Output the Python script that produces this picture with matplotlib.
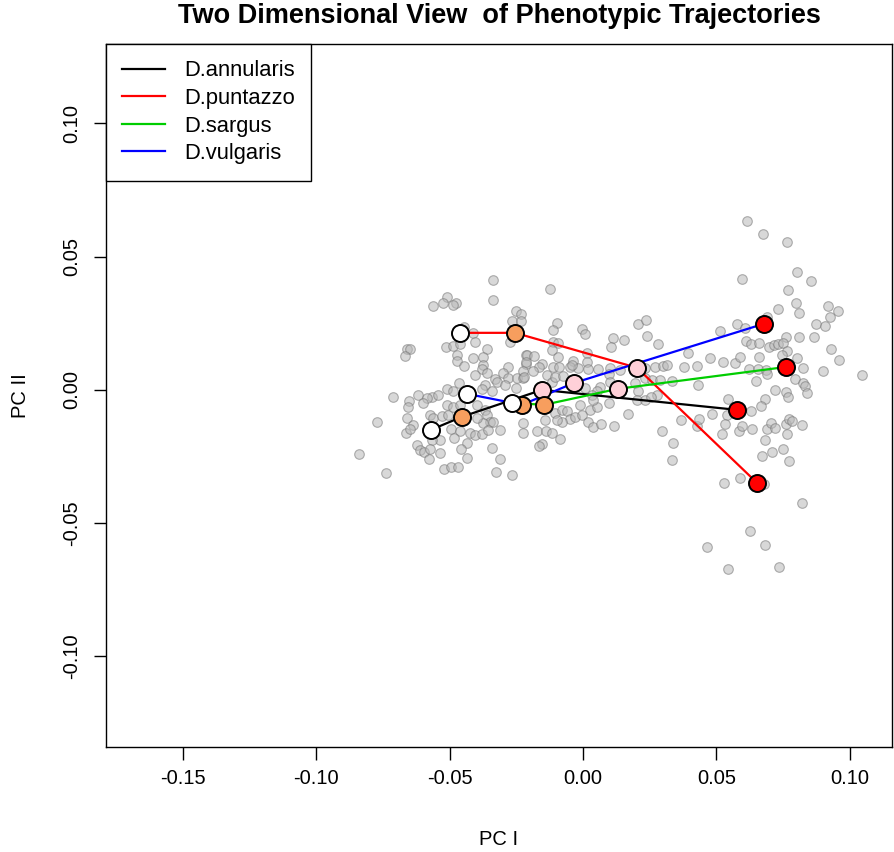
import numpy as np
import matplotlib
matplotlib.use("Agg")
import matplotlib.pyplot as plt

plt.rcParams['font.family'] = ['Liberation Sans', 'DejaVu Sans']

# PC scores of all specimens (x1000)
pc1_all = [
    -33.6, -33.6, -50.9, -52.6, -56.1, -47.6, -48.6, -25.2, -23.1, -26.5,
    -23.4, -44.5, -41.1, -40.5, -27.4, -66.1, -64.9, -66.8, -51.5, -48.6,
    -46.1, -36.1, -47.1, -47.1, -44.6, -41.1, -37.6, -37.4, -37.8, -36.1,
    -40.5, -28.0, -21.5, -21.5, -29.9, -28.0, -24.9, -22.4, -22.4, -33.0,
    -32.4, -46.4, -50.9, -48.6, -36.8, -38.0, -34.2, -29.3, -25.2, -71.1,
    -61.8, -56.7, -54.3, -58.6,
    -65.1, -65.5, -59.9, -77.1, -65.9, -63.6, -66.4, -64.9, -57.4, -56.1,
    -53.0, -50.5, -50.9, -48.6, -46.1, -39.9, -36.8, -36.1, -34.9, -33.6,
    -37.4, -39.9, -49.6, -46.1, -42.4, -40.5, -38.0, -35.5, -31.1, -22.6,
    -22.6, -53.6, -56.7, -48.4, -43.4, -62.4, -61.1, -59.6, -57.4, -53.6,
    -45.8, -57.7, -43.4, -34.2, -31.1, -83.9, -73.9, -52.0, -49.6, -46.8,
    -32.7, -26.7,
    -12.4, -9.6, -11.1, -0.5, 0.7, 20.4, 23.4, 23.9, 11.4, 15.4,
    10.4, 28.2, 39.5, -11.1, -9.5, -11.5, -21.1, -18.3, -21.4, -9.5,
    -15.5, -16.4, -11.1, -9.0, -3.6, 1.4, 1.4, -1.8, -4.9, -4.2,
    2.0, 5.7, 10.1, 13.9, 9.9, -18.6, -22.1, -13.6, -11.7, -10.5,
    -7.4, 23.2, 27.0, 30.1, 31.4, 37.9, 42.6, 23.2, 25.7, 28.9,
    33.2, 19.5, 10.1, 6.4, 5.1, 3.3, 0.7, 43.2, 27.6, 20.7,
    -1.2, 2.6, 5.1, 3.6, 9.9, 20.1, 23.2, 25.4, -10.5, -8.0,
    -6.1, -4.9, -3.0, -0.5, -8.0, -9.9, 2.0, 3.6, 6.7, 11.7,
    16.8, -14.3, -17.1, -13.9, -11.5, -8.6, -15.3, -16.5, 36.6, 29.5,
    42.6, 33.6, 33.2,
    61.4, 67.4, 76.6, 80.3, 59.7, 85.5, 76.7, 79.8, 81.1, 73.0,
    91.9, 95.7, 92.6, 87.3, 90.7, 51.3, 57.6, 60.7, 68.9, 81.1,
    86.6, 76.1, 61.1, 63.0, 66.1, 69.5, 71.7, 73.0, 75.1, 76.3,
    74.5, 80.3, 92.8, 96.1, 47.6, 52.6, 57.0, 58.8, 66.0, 62.3,
    65.5, 68.6, 69.1, 64.8, 82.6, 79.5, 82.3, 83.2, 83.8, 90.1,
    104.5, 72.0, 76.0, 76.9, 68.2, 54.5,
    66.6, 62.9, 48.2, 53.9, 43.6, 53.2, 52.2, 58.6, 59.7, 63.2,
    68.9, 70.5, 72.0, 76.1, 77.3, 78.2, 82.0, 76.6, 68.2, 74.9,
    70.7, 67.0, 77.1, 58.8, 53.0, 67.8, 82.1, 62.6, 68.0, 46.4,
    54.5, 73.5,
]
pc2_all = [
    41.3, 33.8, 35.0, 32.5, 31.5, 32.7, 31.9, 29.6, 28.4, 25.9,
    26.0, 23.7, 21.3, 18.1, 18.1, 15.3, 15.3, 12.8, 16.0, 16.5,
    17.3, 15.4, 13.1, 11.0, 9.0, 11.9, 12.5, 9.4, 7.9, 6.3,
    5.6, 8.7, 12.9, 9.6, 6.3, 4.4, 4.4, 4.4, 6.9, 4.0,
    3.1, 2.7, 0.3, -0.3, 1.9, 0.3, -0.3, 1.9, 0.6, -2.5,
    -1.9, -2.5, -2.1, -3.1,
    -4.0, -6.3, -5.0, -11.9, -10.6, -13.1, -16.0, -14.7, -9.4, -10.6,
    -9.8, -9.4, -5.6, -6.3, -5.6, -5.6, -7.5, -9.4, -11.9, -11.9,
    -12.5, -10.6, -14.7, -15.3, -16.2, -16.9, -16.5, -15.0, -15.0, -16.2,
    -12.3, -19.0, -18.8, -18.1, -19.8, -20.6, -22.5, -23.2, -22.3, -23.8,
    -22.3, -25.9, -25.6, -21.9, -26.0, -24.0, -31.3, -29.6, -29.0, -28.8,
    -30.7, -31.9,
    37.9, 25.0, 22.5, 22.8, 20.9, 24.8, 26.3, 20.3, 19.6, 18.8,
    16.2, 17.1, 14.0, 18.1, 17.5, 15.0, 13.1, 12.8, 10.6, 12.5,
    9.8, 8.7, 8.7, 8.7, 11.0, 13.8, 10.6, 8.1, 8.5, 9.4,
    7.8, 7.8, 8.1, 7.5, 6.0, 6.9, 5.0, 5.6, 3.1, 5.0,
    5.3, 8.1, 8.7, 9.0, 9.4, 8.4, 9.0, 4.4, 3.8, 3.8,
    3.4, 2.5, 3.1, 1.2, -0.6, -1.9, 0.6, 1.9, -1.9, -0.6,
    -5.6, -7.5, -6.3, -3.8, -4.8, -3.8, -3.8, -2.7, -8.7, -7.5,
    -8.1, -11.0, -10.2, -9.4, -11.9, -11.3, -11.9, -14.1, -12.8, -13.5,
    -9.1, -11.3, -15.4, -15.6, -16.2, -18.5, -20.3, -20.9, -11.3, -15.3,
    -13.5, -20.0, -26.5,
    63.4, 58.5, 55.4, 44.4, 41.5, 40.8, 37.4, 32.5, 29.0, 30.5,
    31.3, 29.6, 27.5, 24.8, 24.1, 22.1, 24.7, 23.2, 27.3, 20.0,
    19.9, 19.8, 18.5, 17.3, 17.7, 16.2, 16.8, 17.1, 17.7, 14.4,
    13.0, 12.1, 15.4, 11.3, 12.1, 10.5, 10.0, 12.5, 12.3, 7.9,
    7.8, 7.5, 6.0, 3.5, 8.1, 4.1, 2.5, 1.6, -1.0, 7.2,
    5.6, 0.0, -0.9, -2.5, -3.5, -3.5,
    -6.0, -7.8, -9.0, -9.6, -11.0, -12.9, -16.5, -15.3, -13.5, -14.6,
    -14.6, -12.3, -14.4, -12.8, -11.0, -11.5, -13.2, -16.5, -19.0, -22.3,
    -23.5, -25.0, -26.6, -32.9, -34.8, -35.4, -42.3, -52.8, -58.3, -58.9,
    -67.2, -66.3,
]

# group mean trajectories (x1000), stages 1..4
species = ['D.annularis', 'D.puntazzo', 'D.sargus', 'D.vulgaris']
line_cols = ['black', '#FF0000', '#00CD00', '#0000FF']
traj_pc1 = [
    [-57.0, -45.4, -15.4, 57.7],
    [-46.1, -25.5, 20.2, 65.2],
    [-26.6, -14.6, 13.1, 76.1],
    [-43.5, -22.9, -3.4, 67.8],
]
traj_pc2 = [
    [-15.0, -10.1, 0.0, -7.5],
    [21.4, 21.4, 8.3, -34.9],
    [-4.9, -5.6, 0.4, 8.6],
    [-1.5, -5.6, 2.6, 24.8],
]
stage_cols = ['white', '#F79E5E', '#FFD0D8', '#FF0000']

x_all = np.array(pc1_all) / 1000
y_all = np.array(pc2_all) / 1000

fig = plt.figure(figsize=(8.94, 8.52), dpi=100)
ax = fig.add_axes([0.1186, 0.1236, 0.8792, 0.8248])

ax.scatter(x_all, y_all, s=48, facecolor=(0.72, 0.72, 0.72, 0.55),
           edgecolor=(0.45, 0.45, 0.45, 0.55), linewidth=0.8, zorder=1)

for i in range(len(species)):
    tx = np.array(traj_pc1[i]) / 1000
    ty = np.array(traj_pc2[i]) / 1000
    ax.plot(tx, ty, color=line_cols[i], lw=1.6, label=species[i], zorder=2)

# big stage markers, last stage drawn first
for k in reversed(range(4)):
    for i in range(len(species)):
        ax.scatter(traj_pc1[i][k] / 1000, traj_pc2[i][k] / 1000, s=150,
                   facecolor=stage_cols[k], edgecolor='black', linewidth=1.4,
                   zorder=3 + (3 - k))

ax.set_xlim(-0.1788, 0.1158)
ax.set_ylim(-0.1339, 0.1298)
ax.set_xticks([-0.15, -0.10, -0.05, 0.00, 0.05, 0.10])
ax.set_xticklabels(['-0.15', '-0.10', '-0.05', '0.00', '0.05', '0.10'])
ax.set_yticks([-0.10, -0.05, 0.00, 0.05, 0.10])
ax.set_yticklabels(['-0.10', '-0.05', '0.00', '0.05', '0.10'], rotation=90, va='center')
ax.tick_params(direction='out', length=9, width=1, labelsize=14.5, pad=7)
ax.tick_params(axis='y', pad=9)
for sp in ax.spines.values():
    sp.set_linewidth(1)

ax.set_xlabel('PC I', fontsize=14.5, labelpad=30)
ax.set_ylabel('PC II', fontsize=14.5, labelpad=23)
ax.set_title('Two Dimensional View  of Phenotypic Trajectories', fontsize=19.5,
             fontweight='bold', pad=15)

leg = ax.legend(loc='upper left', bbox_to_anchor=(0, 1), borderaxespad=0,
                fontsize=15.8, fancybox=False, edgecolor='black', framealpha=1,
                handlelength=1.95, handletextpad=0.85, labelspacing=0.3,
                borderpad=0.75)
leg.get_frame().set_linewidth(1)
leg.set_zorder(10)

fig.savefig('out.png', dpi=100)
